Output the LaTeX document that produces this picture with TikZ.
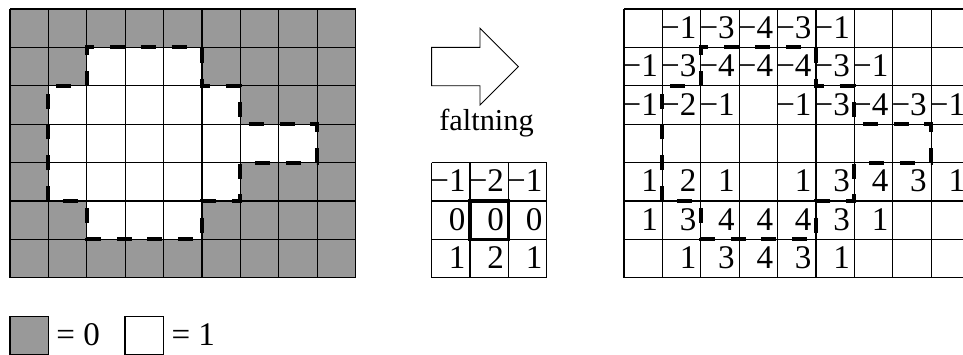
\documentclass[tikz,border=0pt]{standalone}
\usepackage{fontspec}
\setmainfont{Liberation Serif}
\definecolor{cellgray}{RGB}{153,153,153}
\tikzset{
  gridline/.style={line width=0.8pt, draw=black},
  regionline/.style={line width=3pt, draw=black, dash pattern=on 11.1pt off 11.7pt},
  cellnum/.style={anchor=base east, inner sep=0pt, font=\fontsize{24.5}{28}\selectfont},
  legendtext/.style={anchor=base west, inner sep=0pt, font=\fontsize{24.5}{28}\selectfont},
  kernelmark/.style={line width=2.4pt, draw=black},
  arrowshape/.style={line width=0.6pt, draw=black, fill=white},
}
\begin{document}
\begin{tikzpicture}
\useasboundingbox (0,0) rectangle (25.078,-9.219);
\clip (0,0) rectangle (25.078,-9.219);

% input image: grey background with the white region of ones
\begin{scope}[shift={(0.26,-0.234)}, yscale=-1]
  \fill[cellgray] (0,0) rectangle (9,7);
  \fill[white] (1,5) -- (1,2) -- (2,2) -- (2,1) -- (5,1) -- (5,2) -- (6,2) -- (6,3)
    -- (8,3) -- (8,4) -- (6,4) -- (6,5) -- (5,5) -- (5,6) -- (2,6) -- (2,5) -- cycle;
  \draw[gridline] (0,0) grid (9,7);
  \draw[regionline] (1,5) -- (1,2) -- (2,2) -- (2,1) -- (5,1) -- (5,2) -- (6,2) -- (6,3)
    -- (8,3) -- (8,4) -- (6,4) -- (6,5) -- (5,5) -- (5,6) -- (2,6) -- (2,5) -- cycle;
\end{scope}

% block arrow and its label
\draw[arrowshape] (11.24,-1.234) -- (12.5,-1.234) -- (12.5,-0.734) -- (13.5,-1.734)
  -- (12.5,-2.734) -- (12.5,-2.234) -- (11.24,-2.234) -- cycle;
\node[anchor=base, inner sep=0pt, font=\fontsize{22.5}{26}\selectfont] (label) at (12.67,-3.40) {faltning};

% convolution kernel
\begin{scope}[shift={(11.24,-4.234)}, yscale=-1]
  \draw[gridline] (0,0) grid (3,3);
  \draw[kernelmark] (1,1) rectangle (2,2);
  \foreach \c/\r/\v in {0/0/−1, 1/0/−2, 2/0/−1, 0/1/0, 1/1/0, 2/1/0, 0/2/1, 1/2/2, 2/2/1}
    \node[cellnum] (k-\c-\r) at (\c+0.89,\r+0.765) {\v};
\end{scope}

% result of the convolution
\begin{scope}[shift={(16.25,-0.234)}, yscale=-1]
  \draw[gridline] (0,0) grid (9,7);
  \foreach \c/\r/\v in {
      1/0/−1, 2/0/−3, 3/0/−4, 4/0/−3, 5/0/−1,
      0/1/−1, 1/1/−3, 2/1/−4, 3/1/−4, 4/1/−4, 5/1/−3, 6/1/−1,
      0/2/−1, 1/2/−2, 2/2/−1, 4/2/−1, 5/2/−3, 6/2/−4, 7/2/−3, 8/2/−1,
      0/4/1, 1/4/2, 2/4/1, 4/4/1, 5/4/3, 6/4/4, 7/4/3, 8/4/1,
      0/5/1, 1/5/3, 2/5/4, 3/5/4, 4/5/4, 5/5/3, 6/5/1,
      1/6/1, 2/6/3, 3/6/4, 4/6/3, 5/6/1}
    \node[cellnum] (o-\c-\r) at (\c+0.89,\r+0.765) {\v};
  \draw[regionline] (1,5) -- (1,2) -- (2,2) -- (2,1) -- (5,1) -- (5,2) -- (6,2) -- (6,3)
    -- (8,3) -- (8,4) -- (6,4) -- (6,5) -- (5,5) -- (5,6) -- (2,6) -- (2,5) -- cycle;
\end{scope}

% legend
\draw[gridline, fill=cellgray] (0.26,-8.234) rectangle (1.26,-9.234);
\node[legendtext] (zero) at (1.46,-8.992) {= 0};
\draw[gridline, fill=white] (3.255,-8.234) rectangle (4.255,-9.234);
\node[legendtext] (one) at (4.46,-8.992) {= 1};
\end{tikzpicture}
\end{document}
